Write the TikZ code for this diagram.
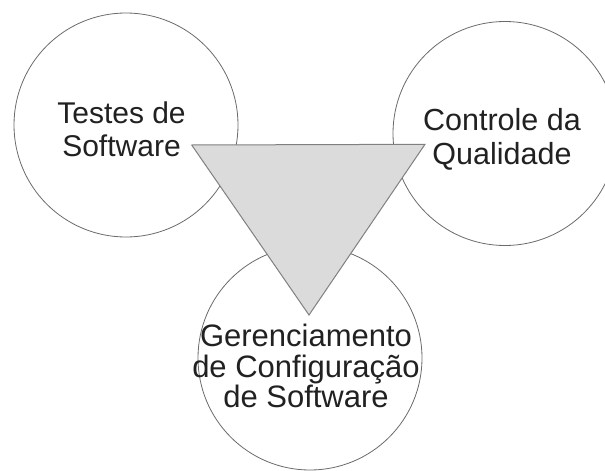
\documentclass[tikz,border=0pt]{standalone}
\usepackage{fontspec}
\setmainfont{Liberation Sans}
\usetikzlibrary{positioning}

\begin{document}
\begin{tikzpicture}
	% Styles
	[
	x=1pt,y=-1pt,
	area/.style={circle,draw=black!58,fill=white,line width=0.8pt,inner sep=0pt,minimum size=224pt},
	label/.style={align=center,text=black!87,font=\fontsize{30}{32.5}\selectfont},
	]

	\clip (0,0) rectangle (605,471);

	% Circles
	\node at (126,125)	(testes)	[area]	{};
	\node at (505,133.5)	(controle)	[area]	{};
	\node at (310,358)	(gerencia)	[area]	{};

	% Triangle
	\coordinate (t1) at (191.7,145);
	\coordinate (t2) at (425,144.3);
	\coordinate (t3) at (309,315);
	\draw[draw=black!50,fill=black!14,line width=1pt,line join=miter] (t1) -- (t2) -- (t3) -- cycle;

	% Text
	\node at (121.5,129.5)	(ltestes)	[label]	{Testes de\\Software};
	\node at (502,139)	(lcontrole)	[label,font=\fontsize{30.5}{34}\selectfont]	{Controle da\\Qualidade};
	\node at (306,366)	(lgerencia)	[label,font=\fontsize{31}{30.5}\selectfont]	{Gerenciamento\\de Configuração\\de Software};
\end{tikzpicture}
\end{document}
